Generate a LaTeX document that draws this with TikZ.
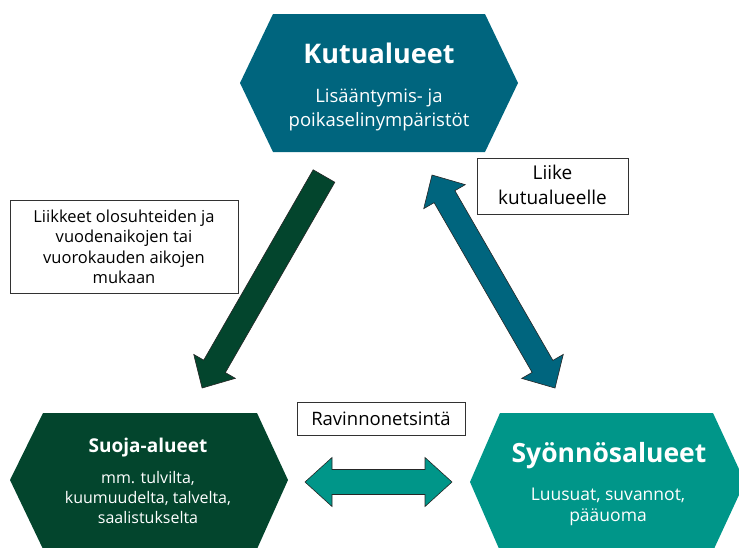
\documentclass[tikz,border=0pt]{standalone}
\usepackage{fontspec}
\setmainfont{Open Sans}
\definecolor{kutu}{RGB}{0,101,126}
\definecolor{suoja}{RGB}{3,69,45}
\definecolor{syon}{RGB}{0,150,137}
\definecolor{edge}{RGB}{50,50,50}
\tikzset{
  lbl/.style={draw=edge, line width=0.9pt, fill=white, inner sep=0pt, align=center},
  blockarrow/.style={draw=black!85, line width=0.6pt, line join=miter},
  hextitle/.style={text=white, inner sep=0pt, font=\bfseries},
  hexsub/.style={text=white, inner sep=0pt, align=center}
}
\begin{document}
\begin{tikzpicture}[x=1pt,y=-1pt]
\useasboundingbox (0,0) rectangle (739,547);
\begin{scope}
\clip (0,0) rectangle (739,547);
% hexagons
\fill[kutu] (240,83) -- (273,14) -- (485,14) -- (518,83) -- (485,152) -- (273,152) -- cycle;
\fill[suoja] (10,480) -- (43,413) -- (257,413) -- (288,480) -- (257,549) -- (43,549) -- cycle;
\fill[syon] (470,482) -- (500,413) -- (713,413) -- (745,482) -- (713,551) -- (500,551) -- cycle;
\end{scope}
% hexagon texts
\node[hextitle, font=\bfseries\fontsize{27}{30}\selectfont, anchor=base] (kt) at (379,63) {Kutualueet};
\node[hexsub, font=\fontsize{18.5}{24}\selectfont, anchor=base] (ks1) at (379,102) {Lisääntymis- ja};
\node[hexsub, font=\fontsize{18.5}{24}\selectfont, anchor=base] (ks2) at (379,126) {poikaselinympäristöt};
\node[hextitle, font=\bfseries\fontsize{19}{22}\selectfont, anchor=base] (st) at (148,452) {Suoja-alueet};
\node[hexsub, font=\fontsize{16}{20}\selectfont, anchor=base] (ss1) at (148,483) {mm. tulvilta,};
\node[hexsub, font=\fontsize{16}{20}\selectfont, anchor=base] (ss2) at (148,503) {kuumuudelta, talvelta,};
\node[hexsub, font=\fontsize{16}{20}\selectfont, anchor=base] (ss3) at (148,523) {saalistukselta};
\node[hextitle, font=\bfseries\fontsize{26.5}{30}\selectfont, anchor=base] (yt) at (609,462) {Syönnösalueet};
\node[hexsub, font=\fontsize{17.5}{22}\selectfont, anchor=base] (ys1) at (608,500) {Luusuat, suvannot,};
\node[hexsub, font=\fontsize{17.5}{22}\selectfont, anchor=base] (ys2) at (608,521) {pääuoma};
% label boxes
\node[lbl, minimum width=228pt, minimum height=93pt] (b1) at (124,246.5) {};
\node[inner sep=0pt, font=\fontsize{16.5}{20}\selectfont, anchor=base] (b1a) at (124,222) {Liikkeet olosuhteiden ja};
\node[inner sep=0pt, font=\fontsize{16.5}{20}\selectfont, anchor=base] (b1b) at (124,242.5) {vuodenaikojen tai};
\node[inner sep=0pt, font=\fontsize{16.5}{20}\selectfont, anchor=base] (b1c) at (124,263) {vuorokauden aikojen};
\node[inner sep=0pt, font=\fontsize{16.5}{20}\selectfont, anchor=base] (b1d) at (124,283.5) {mukaan};
\node[lbl, minimum width=151pt, minimum height=56pt] (b2) at (552.5,186) {};
\node[inner sep=0pt, font=\fontsize{19}{22}\selectfont, anchor=base] (b2a) at (552.5,179) {Liike};
\node[inner sep=0pt, font=\fontsize{19}{22}\selectfont, anchor=base] (b2b) at (552.5,204) {kutualueelle};
\node[lbl, minimum width=168pt, minimum height=33pt] (b3) at (381,418.5) {};
\node[inner sep=0pt, font=\fontsize{18.5}{22}\selectfont, anchor=base] (b3a) at (381,425) {Ravinnonetsintä};
% green single arrow: tail (324,176) -> tip (202,388)
\begin{scope}[shift={(324,176)}, rotate=-119.9]
\filldraw[blockarrow, fill=suoja] (0,12.5) -- (219.6,12.5) -- (219.6,24) -- (244.6,0) -- (219.6,-24) -- (219.6,-12.5) -- (0,-12.5) -- cycle;
\end{scope}
% blue double arrow: tip (432,175) <-> tip (555,388)
\begin{scope}[shift={(432,175)}, rotate=-60]
\filldraw[blockarrow, fill=kutu] (0,0) -- (25,24) -- (25,12) -- (221,12) -- (221,24) -- (246,0) -- (221,-24) -- (221,-12) -- (25,-12) -- (25,-24) -- cycle;
\end{scope}
% teal horizontal double arrow: tip (305,482) <-> tip (452,482)
\begin{scope}[shift={(305,482)}]
\filldraw[blockarrow, fill=syon] (0,0) -- (27,-24.5) -- (27,-12.5) -- (120,-12.5) -- (120,-24.5) -- (147,0) -- (120,24.5) -- (120,12.5) -- (27,12.5) -- (27,24.5) -- cycle;
\end{scope}
\end{tikzpicture}
\end{document}
